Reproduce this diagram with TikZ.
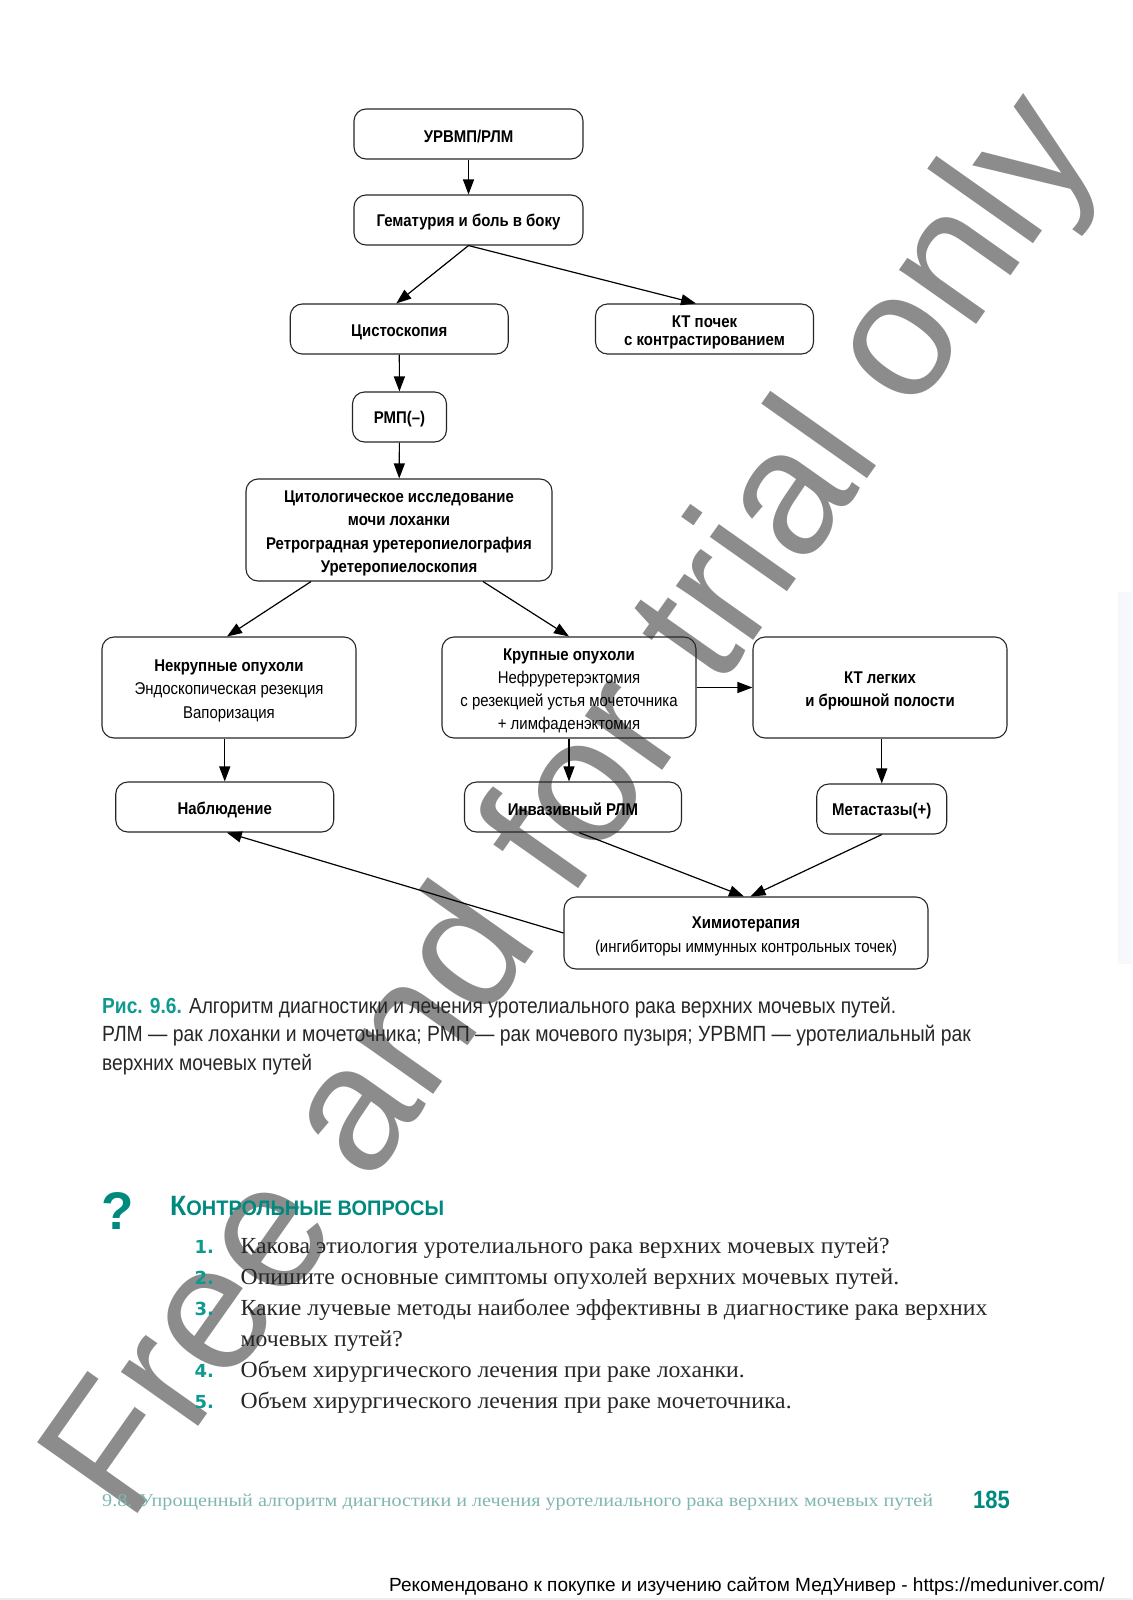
\documentclass[tikz,border=0pt]{standalone}
\usepackage{fontspec}
\usepackage{amsmath}
\usetikzlibrary{arrows.meta}
\setmainfont{Liberation Sans}
\newfontfamily\narrowfont[FakeStretch=0.88]{Liberation Sans}
\newfontfamily\headfont[FakeStretch=0.95]{Liberation Sans}
\newfontfamily\questfont[FakeStretch=1.03]{Liberation Serif}
\newfontfamily\footfont[FakeStretch=1.12]{Liberation Serif}
\newfontfamily\wmfont{Liberation Sans}
\newfontfamily\numfont{DejaVu Sans}

\definecolor{tealhead}{HTML}{00897F}
\definecolor{tealnum}{HTML}{0E9A8E}
\definecolor{tealfoot}{HTML}{7FB6B0}
\definecolor{markgray}{HTML}{8C8C8C}
\definecolor{edgeblue}{HTML}{F6F8FB}

\newcommand{\downgap}{\rule{0pt}{18.5pt}}

\tikzset{
  rbox/.style={draw=black!85, line width=1.1pt, rounded corners=12pt, align=center,
    inner sep=0pt, font=\narrowfont\fontsize{17}{23.3}\selectfont,
    execute at begin node=\rule{0pt}{17.5pt}},
  conn/.style={line width=1.2pt, -{Triangle[length=15pt,width=11pt]}},
  capline/.style={anchor=base west, inner sep=0pt, text=black!85,
    font=\narrowfont\fontsize{21.8}{24}\selectfont},
  quest/.style={anchor=base west, inner sep=0pt, text=black!85,
    font=\questfont\fontsize{23}{27}\selectfont},
  qnum/.style={anchor=base west, inner sep=0pt, text=tealnum,
    font=\numfont\bfseries\fontsize{18}{22}\selectfont}
}

\begin{document}
\begin{tikzpicture}[x=1pt,y=-1pt]
    \useasboundingbox (0,0) rectangle (1132,1600);

    % Watermark
    \node[anchor=base west, inner sep=0pt, rotate=54.8, text=markgray, font=\wmfont\fontsize{178.5}{178}\selectfont]
      (mark) at (129,1526) {Free and for trial only};

    % Page edge
    \fill[black!7] (0,1597.5) rectangle (1132,1600);
    \fill[edgeblue] (1118,592) rectangle (1132,964);

    % Boxes
    \node[rbox, minimum width=229pt, minimum height=50pt] (urvmp) at (468.5,134) {\textbf{УРВМП/РЛМ}};
    \node[rbox, minimum width=229pt, minimum height=50pt] (gemat) at (468.5,220) {\textbf{Гематурия и боль в боку}};
    \node[rbox, minimum width=218pt, minimum height=50pt] (cysto) at (399.25,329) {\textbf{Цистоскопия}};
    \node[rbox, minimum width=218pt, minimum height=50pt] (ktkid) at (704.5,329) {\downgap\textbf{КТ почек}\\[-5pt]\textbf{с контрастированием}};
    \node[rbox, minimum width=94pt, minimum height=50pt] (rmp) at (399.5,417) {\textbf{РМП(–)}};
    \node[rbox, minimum width=306pt, minimum height=102pt] (cyto) at (399,530) {\downgap\textbf{Цитологическое исследование}\\\textbf{мочи лоханки}\\\textbf{Ретроградная уретеропиелография}\\\textbf{Уретеропиелоскопия}};
    \node[rbox, minimum width=254pt, minimum height=101pt] (small) at (229,687.5) {\downgap\textbf{Некрупные опухоли}\\Эндоскопическая резекция\\Вапоризация};
    \node[rbox, minimum width=254pt, minimum height=101pt] (large) at (569,687.5) {\downgap\textbf{Крупные опухоли}\\Нефруретерэктомия\\с резекцией устья мочеточника\\+ лимфаденэктомия};
    \node[rbox, minimum width=254pt, minimum height=101pt] (ktlung) at (880,687.5) {\downgap\textbf{КТ легких}\\\textbf{и брюшной полости}};
    \node[rbox, minimum width=218pt, minimum height=50pt] (watch) at (224.75,807) {\textbf{Наблюдение}};
    \node[rbox, minimum width=217pt, minimum height=50pt] (invas) at (573,807) {\textbf{Инвазивный РЛМ}};
    \node[rbox, minimum width=130pt, minimum height=50pt] (meta) at (881.75,809) {\textbf{Метастазы(+)}};
    \node[rbox, minimum width=364pt, minimum height=72pt] (chemo) at (746,933) {\downgap\textbf{Химиотерапия}\\(ингибиторы иммунных контрольных точек)};

    % Arrows
    \draw[conn] (urvmp) -- (gemat);
    \draw[conn] (gemat.south) -- ([xshift=-3pt]cysto.north);
    \draw[conn] (gemat.south) -- ([xshift=-8.5pt]ktkid.north);
    \draw[conn] (cysto) -- (rmp);
    \draw[conn] (rmp) -- (cyto);
    \draw[conn] ([xshift=-88pt]cyto.south) -- ([xshift=-2pt]small.north);
    \draw[conn] ([xshift=84pt]cyto.south) -- (large.north);
    \draw[conn] (small.south -| watch.north) -- (watch.north);
    \draw[conn] (large.south) -- (large.south |- invas.north);
    \draw[conn] (large.east) -- (ktlung.west);
    \draw[conn] (ktlung.south -| meta.north) -- (meta.north);
    \draw[conn] ([xshift=6pt]invas.south) -- ([xshift=-2pt]chemo.north);
    \draw[conn] (meta.south) -- ([xshift=4.5pt]chemo.north);
    \draw[conn] (chemo.west) -- ([xshift=2pt]watch.south);

    % Caption
    \node[capline] (cap1) at (102,1013) {\textcolor{tealnum}{\textbf{Рис. 9.6.}} Алгоритм диагностики и лечения уротелиального рака верхних мочевых путей.};
    \node[capline] (cap2) at (102,1041.5) {\fontsize{22}{24}\selectfont РЛМ — рак лоханки и мочеточника; РМП — рак мочевого пузыря; УРВМП — уротелиальный рак};
    \node[capline] (cap3) at (102,1070) {верхних мочевых путей};

    % Questions
    \node[anchor=base west, inner sep=0pt, text=tealhead, font=\bfseries\fontsize{53}{54}\selectfont] (qmark) at (101,1229) {?};
    \node[anchor=base west, inner sep=0pt, text=tealhead, font=\headfont\bfseries] (qhead) at (170,1215) {\fontsize{28}{28}\selectfont К\fontsize{21}{28}\selectfont ОНТРОЛЬНЫЕ ВОПРОСЫ};
    \node[qnum] (n1) at (194.5,1253) {1.};
    \node[qnum] (n2) at (194.5,1284) {2.};
    \node[qnum] (n3) at (194.5,1315) {3.};
    \node[qnum] (n4) at (194.5,1377) {4.};
    \node[qnum] (n5) at (194.5,1408) {5.};
    \node[quest] (q1) at (240.5,1253) {Какова этиология уротелиального рака верхних мочевых путей?};
    \node[quest] (q2) at (240.5,1284) {Опишите основные симптомы опухолей верхних мочевых путей.};
    \node[quest] (q3) at (240.5,1315) {Какие лучевые методы наиболее эффективны в диагностике рака верхних};
    \node[quest] (q3b) at (240.5,1346) {мочевых путей?};
    \node[quest] (q4) at (240.5,1377) {Объем хирургического лечения при раке лоханки.};
    \node[quest] (q5) at (240.5,1408) {Объем хирургического лечения при раке мочеточника.};

    % Footer
    \node[anchor=base west, inner sep=0pt, text=tealfoot, font=\footfont\fontsize{18}{20}\selectfont] (foot) at (102,1506) {9.8. Упрощенный алгоритм диагностики и лечения уротелиального рака верхних мочевых путей};
    \node[anchor=base west, inner sep=0pt, text=tealhead, font=\narrowfont\bfseries\fontsize{25}{25}\selectfont] (page) at (973,1508) {185};
    \node[anchor=base west, inner sep=0pt, text=black, font=\fontsize{19.05}{20}\selectfont] (site) at (389,1591) {Рекомендовано к покупке и изучению сайтом МедУнивер - https://meduniver.com/};
\end{tikzpicture}
\end{document}
